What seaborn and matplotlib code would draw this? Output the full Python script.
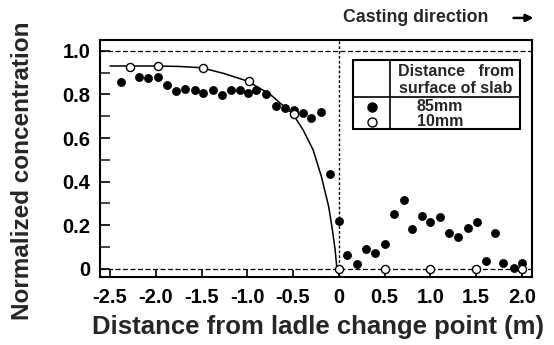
import numpy as np
import pandas as pd
import matplotlib
matplotlib.use("Agg")
import matplotlib.pyplot as plt
from matplotlib.patches import Rectangle, FancyArrowPatch
import seaborn as sns

# 85 mm from slab surface (filled circles)
x_85 = [-2.38, -2.18, -2.08, -1.98, -1.88, -1.78, -1.68, -1.57, -1.48, -1.38, -1.28,
        -1.18, -1.08, -0.99, -0.90, -0.80, -0.69, -0.59, -0.49, -0.39, -0.30, -0.19,
        -0.10, 0.0, 0.09, 0.20, 0.30, 0.40, 0.51, 0.60, 0.71, 0.80, 0.91, 1.0, 1.11,
        1.21, 1.30, 1.41, 1.51, 1.61, 1.71, 1.80, 1.91, 2.0]
y_85 = [0.858, 0.878, 0.876, 0.881, 0.841, 0.815, 0.826, 0.820, 0.808, 0.819, 0.797,
        0.820, 0.820, 0.805, 0.819, 0.802, 0.748, 0.738, 0.727, 0.716, 0.690, 0.721,
        0.434, 0.221, 0.064, 0.023, 0.093, 0.075, 0.113, 0.253, 0.316, 0.185, 0.243,
        0.215, 0.237, 0.166, 0.147, 0.186, 0.217, 0.037, 0.166, 0.026, 0.003, 0.026]

# 10 mm from slab surface (open circles)
x_10 = [-2.28, -1.98, -1.48, -0.98, -0.49, 0.0, 0.5, 1.0, 1.5, 2.0]
y_10 = [0.924, 0.930, 0.919, 0.861, 0.709, 0.0, 0.0, 0.0, 0.0, 0.0]

# fitted curve
x_fit = [-2.5, -2.3, -2.0, -1.75, -1.5, -1.25, -1.0, -0.75, -0.5, -0.39, -0.28,
         -0.19, -0.11, -0.07, -0.04, -0.02]
y_fit = [0.930, 0.930, 0.930, 0.928, 0.922, 0.895, 0.861, 0.800, 0.709, 0.637, 0.545,
         0.423, 0.285, 0.179, 0.087, 0.0]

x_ticks = [-2.5, -2.0, -1.5, -1.0, -0.5, 0, 0.5, 1.0, 1.5, 2.0]
x_labels = ["-2.5", "-2.0", "-1.5", "-1.0", "-0.5", "0", "0.5", "1.0", "1.5", "2.0"]
y_ticks = [0, 0.2, 0.4, 0.6, 0.8, 1.0]
y_labels = ["0", "0.2", "0.4", "0.6", "0.8", "1.0"]

sns.set_theme(style="ticks")
plt.rcParams["font.family"] = ["Liberation Sans", "DejaVu Sans"]
plt.rcParams["font.weight"] = "bold"

df85 = pd.DataFrame({"x": x_85, "y": y_85})
df10 = pd.DataFrame({"x": x_10, "y": y_10})
dffit = pd.DataFrame({"x": x_fit, "y": y_fit})

fig = plt.figure(figsize=(5.54, 3.45), dpi=100)
ax = fig.add_axes([0.1805, 0.197, 0.7795, 0.687])

# reference lines
ax.axhline(1.0, color="black", lw=0.9, ls=(0, (4, 2)), zorder=1)
ax.axhline(0.0, color="black", lw=0.9, ls=(0, (4, 2)), zorder=1)
ax.axvline(0.0, color="black", lw=1.0, ls=(0, (2, 1.5)), zorder=1)

sns.lineplot(data=dffit, x="x", y="y", sort=False, estimator=None,
             color="black", lw=1.1, ax=ax, zorder=2)
sns.scatterplot(data=df85, x="x", y="y", color="black", s=34, edgecolor="black",
                linewidth=0.5, ax=ax, zorder=3)
sns.scatterplot(data=df10, x="x", y="y", color="white", s=34, edgecolor="black",
                linewidth=1.0, ax=ax, zorder=4)

ax.set_xlim(-2.61, 2.11)
ax.set_ylim(-0.037, 1.049)
ax.set_xticks(x_ticks)
ax.set_xticklabels(x_labels)
ax.set_yticks(y_ticks)
ax.set_yticklabels(y_labels)
ax.set_yticks(np.arange(0.1, 1.0, 0.2), minor=True)
ax.tick_params(axis="both", direction="in", labelsize=14.5, width=1.2, colors="black")
ax.tick_params(axis="x", length=5, pad=8)
ax.tick_params(axis="y", length=7, pad=7)
ax.tick_params(axis="y", which="minor", direction="in", length=7, width=1.2)
for lab in ax.get_xticklabels() + ax.get_yticklabels():
    lab.set_fontweight("bold")
for sp in ax.spines.values():
    sp.set_linewidth(1.5)
    sp.set_color("black")

ax.set_xlabel("Distance from ladle change point (m)", fontsize=18.5, fontweight="bold")
ax.set_ylabel("Normalized concentration", fontsize=17.5, fontweight="bold")
ax.xaxis.set_label_coords(0.505, -0.211)
ax.yaxis.set_label_coords(-0.18, 0.447)
ax.xaxis.label.set_va("center")
ax.yaxis.label.set_va("center")

# table-style legend
lx0, lx1, lxd = 0.586, 0.972, 0.671
ly0, ly1, lyd = 0.623, 0.916, 0.761
tr = ax.transAxes
ax.add_patch(Rectangle((lx0, ly0), lx1 - lx0, ly1 - ly0, transform=tr, fill=True,
                       facecolor="white", edgecolor="black", lw=1.5, zorder=5))
ax.plot([lxd, lxd], [ly0, ly1], transform=tr, color="black", lw=1.2, zorder=6)
ax.plot([lx0, lx1], [lyd, lyd], transform=tr, color="black", lw=1.2, zorder=6)
ax.text(0.824, 0.866, "Distance   from", transform=tr, ha="center", va="center",
        fontsize=11.5, fontweight="bold", zorder=7)
ax.text(0.824, 0.796, "surface of slab", transform=tr, ha="center", va="center",
        fontsize=11.5, fontweight="bold", zorder=7)
ax.text(0.787, 0.719, "85mm", transform=tr, ha="center", va="center",
        fontsize=11.5, fontweight="bold", zorder=7)
ax.text(0.787, 0.655, "10mm", transform=tr, ha="center", va="center",
        fontsize=11.5, fontweight="bold", zorder=7)
ax.plot([0.629], [0.719], "o", transform=tr, color="black", ms=6.5, zorder=7)
ax.plot([0.629], [0.655], "o", transform=tr, mfc="white", mec="black", ms=6.5,
        mew=1.0, zorder=7)

fig.text(0.619, 0.948, "Casting direction", fontsize=12.8, fontweight="bold",
         ha="left", va="center")
fig.add_artist(FancyArrowPatch(
    (0.922, 0.948), (0.968, 0.948), transform=fig.transFigure,
    arrowstyle="-|>", mutation_scale=11, color="black", lw=1.8))

fig.savefig("out.png", dpi=100)
